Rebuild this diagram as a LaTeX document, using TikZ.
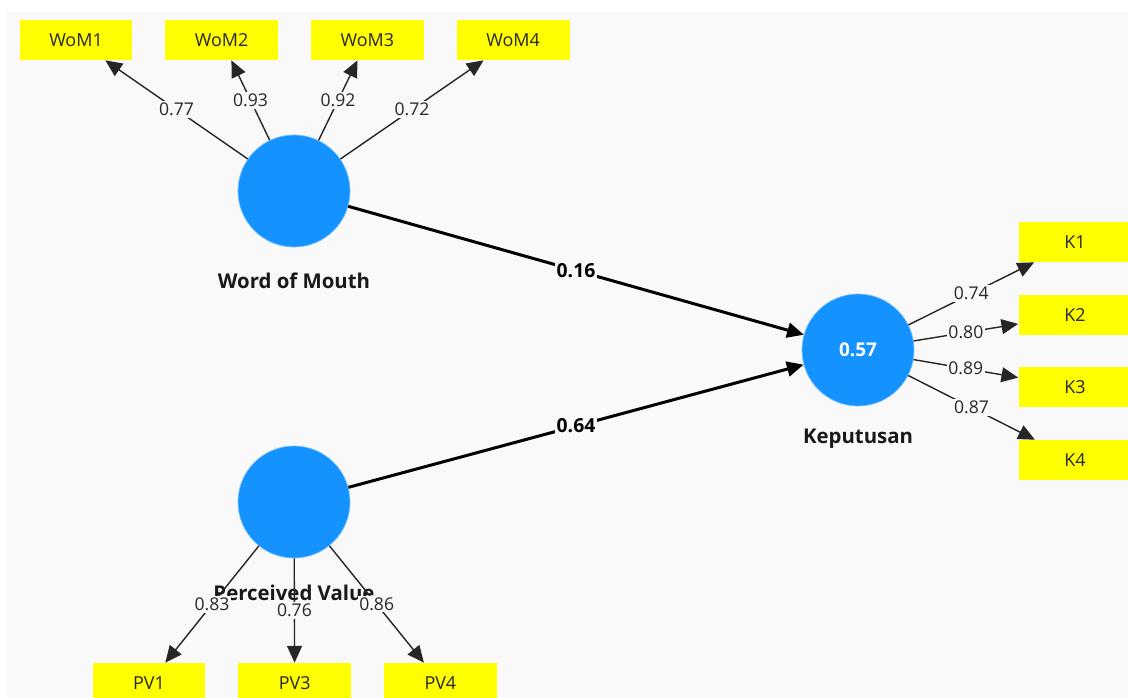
\documentclass[tikz,border=0pt]{standalone}
\usepackage{fontspec}
\setmainfont{Open Sans}
\usetikzlibrary{arrows.meta,positioning}
\definecolor{latentblue}{RGB}{20,146,255}
\definecolor{itemyellow}{RGB}{255,255,0}
\definecolor{canvasgray}{RGB}{249,249,249}

\begin{document}
\begin{tikzpicture}[x=0.02cm, y=-0.02cm, >={Triangle[length=9.5pt,width=8.5pt]}, node distance=0.64cm]
    \tikzstyle{latent}=[circle,fill=latentblue,draw=latentblue!60,minimum size=2.24cm,inner sep=0pt,text=white,font=\bfseries\fontsize{10.8}{12}\selectfont]
    \tikzstyle{item}=[rectangle,fill=itemyellow,minimum width=2.26cm,minimum height=0.8cm,inner sep=0pt,text=black!85,font=\fontsize{10.2}{11}\selectfont]
    \tikzstyle{lvname}=[text=black!90,font=\bfseries\fontsize{11.6}{13}\selectfont]
    \tikzstyle{load}=[->,line width=0.8pt,black!85]
    \tikzstyle{inner}=[->,line width=1.7pt,black]
    \tikzstyle{weight}=[fill=canvasgray,inner sep=1pt,text=black!85,font=\fontsize{10}{11}\selectfont]
    \tikzstyle{coef}=[fill=canvasgray,inner sep=1pt,text=black,font=\bfseries\fontsize{11}{12}\selectfont]

    \useasboundingbox (0,0) rectangle (1128,697);
    \clip (0,0) rectangle (1128,697);
    \fill[white] (0,0) rectangle (1128,697);
    \fill[canvasgray] (6,12) rectangle (1128,697);

    % latent variables
    \node[latent] (WoM) at (294,191) {};
    \node[lvname] (WoMname) at (294,281) {Word of Mouth};
    \node[latent] (PV) at (294,502) {};
    \node[lvname] (PVname) at (294,593) {Perceived Value};
    \node[latent] (K) at (858,350) {0.57};
    \node[lvname] (Kname) at (858,439) {Keputusan};

    % indicators
    \node[item] (WoM1) at (76,40) {WoM1};
    \node[item,right=of WoM1] (WoM2) {WoM2};
    \node[item,right=of WoM2] (WoM3) {WoM3};
    \node[item,right=of WoM3] (WoM4) {WoM4};

    \node[item] (K1) at (1075,242) {K1};
    \node[item,below=of K1] (K2) {K2};
    \node[item,below=of K2] (K3) {K3};
    \node[item,below=of K3] (K4) {K4};

    \node[item] (PV1) at (149,683) {PV1};
    \node[item,right=of PV1] (PV3) {PV3};
    \node[item,right=of PV3] (PV4) {PV4};

    \path
    (WoM) edge[load] node[weight]{0.77} (WoM1)
    (WoM) edge[load] node[weight]{0.93} (WoM2)
    (WoM) edge[load] node[weight]{0.92} (WoM3)
    (WoM) edge[load] node[weight]{0.72} (WoM4)
    (K) edge[load] node[weight]{0.74} (K1)
    (K) edge[load] node[weight]{0.80} (K2)
    (K) edge[load] node[weight]{0.89} (K3)
    (K) edge[load] node[weight]{0.87} (K4)
    (PV) edge[load] node[weight]{0.83} (PV1)
    (PV) edge[load] node[weight]{0.76} (PV3)
    (PV) edge[load] node[weight]{0.86} (PV4);

    \path
    (WoM) edge[inner] node[coef]{0.16} (K)
    (PV) edge[inner] node[coef]{0.64} (K);

\end{tikzpicture}
\end{document}
